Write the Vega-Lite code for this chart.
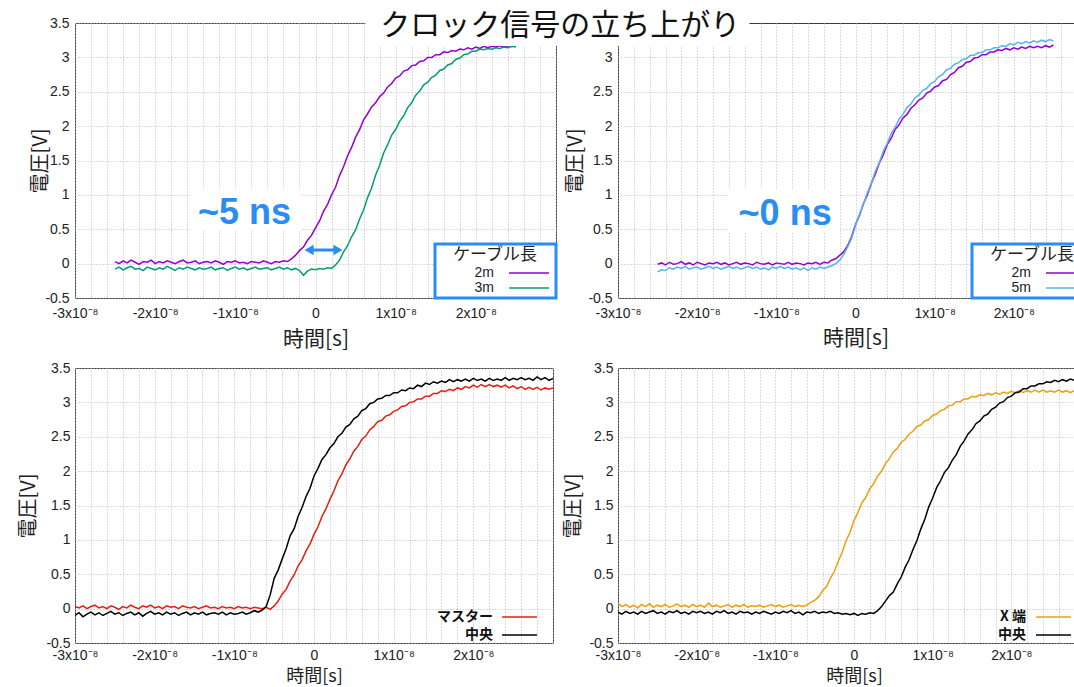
{
  "$schema": "https://vega.github.io/schema/vega-lite/v6.json",
  "padding": {"left": 17, "top": 0, "right": 0, "bottom": 0},
  "background": "white",
  "config": {
    "font": "Liberation Sans",
    "view": {"stroke": "#3a3a3a", "strokeWidth": 1},
    "legend": {"strokeWidth": 3},
    "axis": {"grid": true, "gridColor": "#b8b8b8", "gridDash": [1, 2], "gridWidth": 1, "ticks": false, "domain": false, "labelOverlap": false, "labelFont": "Liberation Sans", "labelFontSize": 14, "labelColor": "#222", "titleFont": "Noto Sans CJK JP", "titleFontWeight": "normal", "titleColor": "#222"}
  },
  "datasets": {
    "tl": [
      {"t":-25,"c2m":0.03,"c3m":-0.08},{"t":-24.5,"c2m":0.0,"c3m":-0.05},{"t":-24,"c2m":0.04,"c3m":-0.09},{"t":-23.5,"c2m":0.01,"c3m":-0.06},{"t":-23,"c2m":0.05,"c3m":-0.04},{"t":-22.5,"c2m":0.02,"c3m":-0.08},{"t":-22,"c2m":-0.01,"c3m":-0.07},{"t":-21.5,"c2m":0.03,"c3m":-0.1},{"t":-21,"c2m":0.02,"c3m":-0.05},{"t":-20.5,"c2m":0.05,"c3m":-0.07},{"t":-20,"c2m":0.0,"c3m":-0.09},{"t":-19.5,"c2m":0.03,"c3m":-0.06},{"t":-19,"c2m":0.01,"c3m":-0.08},{"t":-18.5,"c2m":0.04,"c3m":-0.04},{"t":-18,"c2m":0.02,"c3m":-0.07},{"t":-17.5,"c2m":0.0,"c3m":-0.1},{"t":-17,"c2m":0.03,"c3m":-0.06},{"t":-16.5,"c2m":0.05,"c3m":-0.08},{"t":-16,"c2m":0.01,"c3m":-0.05},{"t":-15.5,"c2m":0.02,"c3m":-0.07},{"t":-15,"c2m":0.04,"c3m":-0.09},{"t":-14.5,"c2m":0.0,"c3m":-0.06},{"t":-14,"c2m":0.02,"c3m":-0.08},{"t":-13.5,"c2m":0.03,"c3m":-0.07},{"t":-13,"c2m":0.01,"c3m":-0.05},{"t":-12.5,"c2m":0.04,"c3m":-0.09},{"t":-12,"c2m":0.02,"c3m":-0.07},{"t":-11.5,"c2m":-0.01,"c3m":-0.06},{"t":-11,"c2m":0.03,"c3m":-0.1},{"t":-10.5,"c2m":0.02,"c3m":-0.07},{"t":-10,"c2m":0.04,"c3m":-0.05},{"t":-9.5,"c2m":0.01,"c3m":-0.08},{"t":-9,"c2m":0.02,"c3m":-0.06},{"t":-8.5,"c2m":0.0,"c3m":-0.09},{"t":-8,"c2m":0.03,"c3m":-0.07},{"t":-7.5,"c2m":0.02,"c3m":-0.05},{"t":-7,"c2m":0.01,"c3m":-0.08},{"t":-6.5,"c2m":0.04,"c3m":-0.07},{"t":-6,"c2m":0.02,"c3m":-0.06},{"t":-5.5,"c2m":0.0,"c3m":-0.09},{"t":-5,"c2m":0.03,"c3m":-0.07},{"t":-4.5,"c2m":0.02,"c3m":-0.05},{"t":-4,"c2m":0.04,"c3m":-0.08},{"t":-3.5,"c2m":0.03,"c3m":-0.06},{"t":-3,"c2m":0.07,"c3m":-0.09},{"t":-2.5,"c2m":0.12,"c3m":-0.07},{"t":-2,"c2m":0.19,"c3m":-0.1},{"t":-1.5,"c2m":0.24,"c3m":-0.17},{"t":-1,"c2m":0.34,"c3m":-0.11},{"t":-0.5,"c2m":0.41,"c3m":-0.08},{"t":0,"c2m":0.52,"c3m":-0.09},{"t":0.5,"c2m":0.62,"c3m":-0.07},{"t":1,"c2m":0.76,"c3m":-0.08},{"t":1.5,"c2m":0.86,"c3m":-0.06},{"t":2,"c2m":1.0,"c3m":-0.07},{"t":2.5,"c2m":1.11,"c3m":-0.02},{"t":3,"c2m":1.28,"c3m":0.05},{"t":3.5,"c2m":1.41,"c3m":0.17},{"t":4,"c2m":1.57,"c3m":0.26},{"t":4.5,"c2m":1.69,"c3m":0.39},{"t":5,"c2m":1.84,"c3m":0.49},{"t":5.5,"c2m":1.95,"c3m":0.65},{"t":6,"c2m":2.09,"c3m":0.78},{"t":6.5,"c2m":2.18,"c3m":0.96},{"t":7,"c2m":2.28,"c3m":1.1},{"t":7.5,"c2m":2.34,"c3m":1.29},{"t":8,"c2m":2.43,"c3m":1.43},{"t":8.5,"c2m":2.48,"c3m":1.61},{"t":9,"c2m":2.57,"c3m":1.73},{"t":9.5,"c2m":2.62,"c3m":1.87},{"t":10,"c2m":2.7,"c3m":1.95},{"t":10.5,"c2m":2.73,"c3m":2.07},{"t":11,"c2m":2.8,"c3m":2.15},{"t":11.5,"c2m":2.82,"c3m":2.27},{"t":12,"c2m":2.88,"c3m":2.34},{"t":12.5,"c2m":2.89,"c3m":2.45},{"t":13,"c2m":2.94,"c3m":2.51},{"t":13.5,"c2m":2.95,"c3m":2.6},{"t":14,"c2m":3.0,"c3m":2.64},{"t":14.5,"c2m":3.0,"c3m":2.71},{"t":15,"c2m":3.04,"c3m":2.74},{"t":15.5,"c2m":3.04,"c3m":2.81},{"t":16,"c2m":3.08,"c3m":2.83},{"t":16.5,"c2m":3.07,"c3m":2.89},{"t":17,"c2m":3.1,"c3m":2.91},{"t":17.5,"c2m":3.09,"c3m":2.97},{"t":18,"c2m":3.12,"c3m":2.99},{"t":18.5,"c2m":3.11,"c3m":3.04},{"t":19,"c2m":3.14,"c3m":3.05},{"t":19.5,"c2m":3.12,"c3m":3.09},{"t":20,"c2m":3.15,"c3m":3.09},{"t":20.5,"c2m":3.13,"c3m":3.12},{"t":21,"c2m":3.16,"c3m":3.11},{"t":21.5,"c2m":3.14,"c3m":3.13},{"t":22,"c2m":3.16,"c3m":3.12},{"t":22.5,"c2m":3.15,"c3m":3.14},{"t":23,"c2m":3.17,"c3m":3.13},{"t":23.5,"c2m":3.15,"c3m":3.15},{"t":24,"c2m":3.17,"c3m":3.14},{"t":24.5,"c2m":3.16,"c3m":3.16},{"t":25,"c2m":3.17,"c3m":3.15}
    ],
    "tr": [
      {"t":-25,"c2m":-0.01,"c5m":-0.12},{"t":-24.5,"c2m":0.01,"c5m":-0.09},{"t":-24,"c2m":-0.02,"c5m":-0.1},{"t":-23.5,"c2m":0.02,"c5m":-0.06},{"t":-23,"c2m":-0.01,"c5m":-0.08},{"t":-22.5,"c2m":0.0,"c5m":-0.05},{"t":-22,"c2m":0.03,"c5m":-0.07},{"t":-21.5,"c2m":-0.01,"c5m":-0.04},{"t":-21,"c2m":0.01,"c5m":-0.08},{"t":-20.5,"c2m":-0.02,"c5m":-0.06},{"t":-20,"c2m":0.02,"c5m":-0.05},{"t":-19.5,"c2m":0.0,"c5m":-0.08},{"t":-19,"c2m":-0.02,"c5m":-0.06},{"t":-18.5,"c2m":0.01,"c5m":-0.04},{"t":-18,"c2m":0.0,"c5m":-0.07},{"t":-17.5,"c2m":0.02,"c5m":-0.05},{"t":-17,"c2m":-0.01,"c5m":-0.08},{"t":-16.5,"c2m":0.01,"c5m":-0.06},{"t":-16,"c2m":-0.02,"c5m":-0.04},{"t":-15.5,"c2m":0.0,"c5m":-0.07},{"t":-15,"c2m":0.02,"c5m":-0.05},{"t":-14.5,"c2m":-0.01,"c5m":-0.08},{"t":-14,"c2m":0.01,"c5m":-0.06},{"t":-13.5,"c2m":0.0,"c5m":-0.04},{"t":-13,"c2m":-0.02,"c5m":-0.07},{"t":-12.5,"c2m":0.02,"c5m":-0.05},{"t":-12,"c2m":0.0,"c5m":-0.08},{"t":-11.5,"c2m":-0.01,"c5m":-0.06},{"t":-11,"c2m":0.01,"c5m":-0.09},{"t":-10.5,"c2m":-0.02,"c5m":-0.05},{"t":-10,"c2m":0.01,"c5m":-0.07},{"t":-9.5,"c2m":0.0,"c5m":-0.04},{"t":-9,"c2m":-0.01,"c5m":-0.07},{"t":-8.5,"c2m":0.02,"c5m":-0.05},{"t":-8,"c2m":-0.01,"c5m":-0.08},{"t":-7.5,"c2m":0.01,"c5m":-0.06},{"t":-7,"c2m":0.0,"c5m":-0.09},{"t":-6.5,"c2m":-0.02,"c5m":-0.06},{"t":-6,"c2m":0.01,"c5m":-0.1},{"t":-5.5,"c2m":0.0,"c5m":-0.06},{"t":-5,"c2m":0.02,"c5m":-0.08},{"t":-4.5,"c2m":-0.01,"c5m":-0.05},{"t":-4,"c2m":0.02,"c5m":-0.07},{"t":-3.5,"c2m":0.01,"c5m":-0.05},{"t":-3,"c2m":0.05,"c5m":-0.03},{"t":-2.5,"c2m":0.07,"c5m":0.0},{"t":-2,"c2m":0.12,"c5m":0.05},{"t":-1.5,"c2m":0.17,"c5m":0.13},{"t":-1,"c2m":0.26,"c5m":0.24},{"t":-0.5,"c2m":0.39,"c5m":0.37},{"t":0,"c2m":0.57,"c5m":0.55},{"t":0.5,"c2m":0.7,"c5m":0.72},{"t":1,"c2m":0.87,"c5m":0.86},{"t":1.5,"c2m":1.0,"c5m":1.03},{"t":2,"c2m":1.17,"c5m":1.17},{"t":2.5,"c2m":1.3,"c5m":1.34},{"t":3,"c2m":1.46,"c5m":1.47},{"t":3.5,"c2m":1.58,"c5m":1.63},{"t":4,"c2m":1.73,"c5m":1.75},{"t":4.5,"c2m":1.82,"c5m":1.89},{"t":5,"c2m":1.95,"c5m":1.98},{"t":5.5,"c2m":2.02,"c5m":2.1},{"t":6,"c2m":2.12,"c5m":2.17},{"t":6.5,"c2m":2.17,"c5m":2.27},{"t":7,"c2m":2.26,"c5m":2.32},{"t":7.5,"c2m":2.31,"c5m":2.41},{"t":8,"c2m":2.38,"c5m":2.45},{"t":8.5,"c2m":2.41,"c5m":2.52},{"t":9,"c2m":2.48,"c5m":2.55},{"t":9.5,"c2m":2.51,"c5m":2.62},{"t":10,"c2m":2.57,"c5m":2.65},{"t":10.5,"c2m":2.59,"c5m":2.72},{"t":11,"c2m":2.66,"c5m":2.75},{"t":11.5,"c2m":2.68,"c5m":2.82},{"t":12,"c2m":2.75,"c5m":2.84},{"t":12.5,"c2m":2.78,"c5m":2.9},{"t":13,"c2m":2.85,"c5m":2.92},{"t":13.5,"c2m":2.87,"c5m":2.97},{"t":14,"c2m":2.93,"c5m":2.98},{"t":14.5,"c2m":2.94,"c5m":3.03},{"t":15,"c2m":2.99,"c5m":3.03},{"t":15.5,"c2m":3.0,"c5m":3.07},{"t":16,"c2m":3.04,"c5m":3.07},{"t":16.5,"c2m":3.04,"c5m":3.11},{"t":17,"c2m":3.08,"c5m":3.11},{"t":17.5,"c2m":3.08,"c5m":3.14},{"t":18,"c2m":3.11,"c5m":3.14},{"t":18.5,"c2m":3.1,"c5m":3.17},{"t":19,"c2m":3.13,"c5m":3.16},{"t":19.5,"c2m":3.11,"c5m":3.2},{"t":20,"c2m":3.14,"c5m":3.18},{"t":20.5,"c2m":3.12,"c5m":3.22},{"t":21,"c2m":3.15,"c5m":3.2},{"t":21.5,"c2m":3.13,"c5m":3.23},{"t":22,"c2m":3.16,"c5m":3.21},{"t":22.5,"c2m":3.14,"c5m":3.24},{"t":23,"c2m":3.16,"c5m":3.22},{"t":23.5,"c2m":3.14,"c5m":3.25},{"t":24,"c2m":3.17,"c5m":3.23},{"t":24.5,"c2m":3.15,"c5m":3.26},{"t":25,"c2m":3.18,"c5m":3.24}
    ],
    "bl": [
      {"t":-30,"master":0.03,"center":-0.1},{"t":-29.5,"master":0.01,"center":-0.06},{"t":-29,"master":0.04,"center":-0.12},{"t":-28.5,"master":0.0,"center":-0.08},{"t":-28,"master":0.03,"center":-0.05},{"t":-27.5,"master":0.05,"center":-0.09},{"t":-27,"master":0.01,"center":-0.06},{"t":-26.5,"master":0.03,"center":-0.1},{"t":-26,"master":0.0,"center":-0.07},{"t":-25.5,"master":0.04,"center":-0.04},{"t":-25,"master":0.02,"center":-0.08},{"t":-24.5,"master":-0.01,"center":-0.06},{"t":-24,"master":0.03,"center":-0.1},{"t":-23.5,"master":0.01,"center":-0.07},{"t":-23,"master":0.05,"center":-0.05},{"t":-22.5,"master":0.02,"center":-0.09},{"t":-22,"master":0.0,"center":-0.06},{"t":-21.5,"master":0.04,"center":-0.11},{"t":-21,"master":0.02,"center":-0.07},{"t":-20.5,"master":0.05,"center":-0.04},{"t":-20,"master":0.01,"center":-0.08},{"t":-19.5,"master":0.03,"center":-0.06},{"t":-19,"master":0.0,"center":-0.09},{"t":-18.5,"master":0.04,"center":-0.05},{"t":-18,"master":0.02,"center":-0.08},{"t":-17.5,"master":0.03,"center":-0.06},{"t":-17,"master":0.0,"center":-0.1},{"t":-16.5,"master":0.04,"center":-0.07},{"t":-16,"master":0.02,"center":-0.05},{"t":-15.5,"master":0.01,"center":-0.09},{"t":-15,"master":0.03,"center":-0.06},{"t":-14.5,"master":0.0,"center":-0.08},{"t":-14,"master":0.02,"center":-0.05},{"t":-13.5,"master":0.04,"center":-0.09},{"t":-13,"master":0.01,"center":-0.07},{"t":-12.5,"master":0.02,"center":-0.06},{"t":-12,"master":0.0,"center":-0.08},{"t":-11.5,"master":0.03,"center":-0.05},{"t":-11,"master":0.01,"center":-0.09},{"t":-10.5,"master":0.02,"center":-0.06},{"t":-10,"master":0.0,"center":-0.08},{"t":-9.5,"master":0.03,"center":-0.07},{"t":-9,"master":0.01,"center":-0.05},{"t":-8.5,"master":0.02,"center":-0.08},{"t":-8,"master":0.0,"center":-0.06},{"t":-7.5,"master":0.02,"center":-0.03},{"t":-7,"master":0.01,"center":-0.05},{"t":-6.5,"master":0.0,"center":-0.02},{"t":-6,"master":0.02,"center":0.03},{"t":-5.5,"master":-0.01,"center":0.2},{"t":-5,"master":0.04,"center":0.44},{"t":-4.5,"master":0.11,"center":0.56},{"t":-4,"master":0.21,"center":0.72},{"t":-3.5,"master":0.28,"center":0.87},{"t":-3,"master":0.4,"center":1.06},{"t":-2.5,"master":0.49,"center":1.16},{"t":-2,"master":0.62,"center":1.34},{"t":-1.5,"master":0.71,"center":1.47},{"t":-1,"master":0.84,"center":1.63},{"t":-0.5,"master":0.94,"center":1.75},{"t":0,"master":1.08,"center":1.93},{"t":0.5,"master":1.19,"center":2.04},{"t":1,"master":1.34,"center":2.17},{"t":1.5,"master":1.45,"center":2.24},{"t":2,"master":1.59,"center":2.34},{"t":2.5,"master":1.71,"center":2.4},{"t":3,"master":1.86,"center":2.5},{"t":3.5,"master":1.96,"center":2.55},{"t":4,"master":2.09,"center":2.64},{"t":4.5,"master":2.18,"center":2.68},{"t":5,"master":2.29,"center":2.76},{"t":5.5,"master":2.36,"center":2.8},{"t":6,"master":2.46,"center":2.88},{"t":6.5,"master":2.51,"center":2.91},{"t":7,"master":2.6,"center":2.98},{"t":7.5,"master":2.65,"center":3.0},{"t":8,"master":2.72,"center":3.05},{"t":8.5,"master":2.74,"center":3.06},{"t":9,"master":2.8,"center":3.1},{"t":9.5,"master":2.82,"center":3.1},{"t":10,"master":2.87,"center":3.14},{"t":10.5,"master":2.89,"center":3.14},{"t":11,"master":2.94,"center":3.18},{"t":11.5,"master":2.95,"center":3.17},{"t":12,"master":3.0,"center":3.21},{"t":12.5,"master":3.01,"center":3.2},{"t":13,"master":3.05,"center":3.25},{"t":13.5,"master":3.05,"center":3.23},{"t":14,"master":3.09,"center":3.28},{"t":14.5,"master":3.09,"center":3.26},{"t":15,"master":3.13,"center":3.3},{"t":15.5,"master":3.13,"center":3.28},{"t":16,"master":3.17,"center":3.31},{"t":16.5,"master":3.16,"center":3.29},{"t":17,"master":3.19,"center":3.33},{"t":17.5,"master":3.17,"center":3.3},{"t":18,"master":3.21,"center":3.33},{"t":18.5,"master":3.19,"center":3.31},{"t":19,"master":3.23,"center":3.34},{"t":19.5,"master":3.21,"center":3.31},{"t":20,"master":3.25,"center":3.35},{"t":20.5,"master":3.22,"center":3.32},{"t":21,"master":3.26,"center":3.34},{"t":21.5,"master":3.23,"center":3.31},{"t":22,"master":3.26,"center":3.35},{"t":22.5,"master":3.23,"center":3.32},{"t":23,"master":3.25,"center":3.34},{"t":23.5,"master":3.22,"center":3.32},{"t":24,"master":3.25,"center":3.36},{"t":24.5,"master":3.21,"center":3.32},{"t":25,"master":3.24,"center":3.35},{"t":25.5,"master":3.2,"center":3.33},{"t":26,"master":3.23,"center":3.36},{"t":26.5,"master":3.19,"center":3.33},{"t":27,"master":3.22,"center":3.35},{"t":27.5,"master":3.19,"center":3.32},{"t":28,"master":3.22,"center":3.37},{"t":28.5,"master":3.18,"center":3.33},{"t":29,"master":3.21,"center":3.36},{"t":29.5,"master":3.19,"center":3.32},{"t":30,"master":3.21,"center":3.35}
    ],
    "br": [
      {"t":-30,"xend":0.08,"center":-0.05},{"t":-29.5,"xend":0.03,"center":-0.08},{"t":-29,"xend":0.06,"center":-0.04},{"t":-28.5,"xend":0.02,"center":-0.07},{"t":-28,"xend":0.05,"center":-0.05},{"t":-27.5,"xend":0.01,"center":-0.08},{"t":-27,"xend":0.06,"center":-0.04},{"t":-26.5,"xend":0.03,"center":-0.07},{"t":-26,"xend":0.07,"center":-0.05},{"t":-25.5,"xend":0.02,"center":-0.03},{"t":-25,"xend":0.05,"center":-0.07},{"t":-24.5,"xend":0.03,"center":-0.05},{"t":-24,"xend":0.06,"center":-0.08},{"t":-23.5,"xend":0.02,"center":-0.04},{"t":-23,"xend":0.04,"center":-0.06},{"t":-22.5,"xend":0.07,"center":-0.03},{"t":-22,"xend":0.03,"center":-0.07},{"t":-21.5,"xend":0.05,"center":-0.05},{"t":-21,"xend":0.02,"center":-0.08},{"t":-20.5,"xend":0.06,"center":-0.04},{"t":-20,"xend":0.03,"center":-0.06},{"t":-19.5,"xend":0.05,"center":-0.04},{"t":-19,"xend":0.02,"center":-0.07},{"t":-18.5,"xend":0.08,"center":-0.05},{"t":-18,"xend":0.03,"center":-0.08},{"t":-17.5,"xend":0.05,"center":-0.04},{"t":-17,"xend":0.02,"center":-0.06},{"t":-16.5,"xend":0.04,"center":-0.03},{"t":-16,"xend":0.06,"center":-0.07},{"t":-15.5,"xend":0.02,"center":-0.05},{"t":-15,"xend":0.05,"center":-0.08},{"t":-14.5,"xend":0.03,"center":-0.04},{"t":-14,"xend":0.06,"center":-0.06},{"t":-13.5,"xend":0.02,"center":-0.05},{"t":-13,"xend":0.04,"center":-0.08},{"t":-12.5,"xend":0.03,"center":-0.05},{"t":-12,"xend":0.05,"center":-0.07},{"t":-11.5,"xend":0.02,"center":-0.04},{"t":-11,"xend":0.04,"center":-0.06},{"t":-10.5,"xend":0.06,"center":-0.08},{"t":-10,"xend":0.03,"center":-0.05},{"t":-9.5,"xend":0.05,"center":-0.07},{"t":-9,"xend":0.02,"center":-0.04},{"t":-8.5,"xend":0.04,"center":-0.06},{"t":-8,"xend":0.06,"center":-0.03},{"t":-7.5,"xend":0.03,"center":-0.07},{"t":-7,"xend":0.05,"center":-0.05},{"t":-6.5,"xend":0.03,"center":-0.09},{"t":-6,"xend":0.05,"center":-0.05},{"t":-5.5,"xend":0.09,"center":-0.06},{"t":-5,"xend":0.12,"center":-0.04},{"t":-4.5,"xend":0.17,"center":-0.07},{"t":-4,"xend":0.26,"center":-0.05},{"t":-3.5,"xend":0.32,"center":-0.06},{"t":-3,"xend":0.44,"center":-0.04},{"t":-2.5,"xend":0.54,"center":-0.07},{"t":-2,"xend":0.69,"center":-0.06},{"t":-1.5,"xend":0.82,"center":-0.08},{"t":-1,"xend":0.99,"center":-0.07},{"t":-0.5,"xend":1.11,"center":-0.09},{"t":0,"xend":1.28,"center":-0.07},{"t":0.5,"xend":1.4,"center":-0.1},{"t":1,"xend":1.54,"center":-0.07},{"t":1.5,"xend":1.62,"center":-0.08},{"t":2,"xend":1.74,"center":-0.06},{"t":2.5,"xend":1.82,"center":-0.07},{"t":3,"xend":1.93,"center":-0.03},{"t":3.5,"xend":2.0,"center":0.03},{"t":4,"xend":2.11,"center":0.11},{"t":4.5,"xend":2.18,"center":0.19},{"t":5,"xend":2.28,"center":0.24},{"t":5.5,"xend":2.33,"center":0.36},{"t":6,"xend":2.42,"center":0.46},{"t":6.5,"xend":2.46,"center":0.6},{"t":7,"xend":2.54,"center":0.71},{"t":7.5,"xend":2.58,"center":0.86},{"t":8,"xend":2.65,"center":0.99},{"t":8.5,"xend":2.67,"center":1.16},{"t":9,"xend":2.73,"center":1.3},{"t":9.5,"xend":2.75,"center":1.48},{"t":10,"xend":2.81,"center":1.61},{"t":10.5,"xend":2.83,"center":1.76},{"t":11,"xend":2.88,"center":1.86},{"t":11.5,"xend":2.9,"center":1.98},{"t":12,"xend":2.95,"center":2.05},{"t":12.5,"xend":2.96,"center":2.16},{"t":13,"xend":3.01,"center":2.24},{"t":13.5,"xend":3.01,"center":2.36},{"t":14,"xend":3.05,"center":2.44},{"t":14.5,"xend":3.05,"center":2.54},{"t":15,"xend":3.09,"center":2.6},{"t":15.5,"xend":3.08,"center":2.69},{"t":16,"xend":3.11,"center":2.73},{"t":16.5,"xend":3.1,"center":2.8},{"t":17,"xend":3.13,"center":2.83},{"t":17.5,"xend":3.11,"center":2.9},{"t":18,"xend":3.14,"center":2.93},{"t":18.5,"xend":3.12,"center":2.99},{"t":19,"xend":3.15,"center":3.01},{"t":19.5,"xend":3.13,"center":3.07},{"t":20,"xend":3.16,"center":3.09},{"t":20.5,"xend":3.14,"center":3.14},{"t":21,"xend":3.17,"center":3.15},{"t":21.5,"xend":3.14,"center":3.2},{"t":22,"xend":3.17,"center":3.2},{"t":22.5,"xend":3.15,"center":3.24},{"t":23,"xend":3.18,"center":3.24},{"t":23.5,"xend":3.15,"center":3.27},{"t":24,"xend":3.18,"center":3.27},{"t":24.5,"xend":3.15,"center":3.3},{"t":25,"xend":3.17,"center":3.29},{"t":25.5,"xend":3.15,"center":3.32},{"t":26,"xend":3.18,"center":3.3},{"t":26.5,"xend":3.15,"center":3.33},{"t":27,"xend":3.17,"center":3.31},{"t":27.5,"xend":3.14,"center":3.34},{"t":28,"xend":3.17,"center":3.32},{"t":28.5,"xend":3.15,"center":3.34},{"t":29,"xend":3.17,"center":3.32},{"t":29.5,"xend":3.14,"center":3.35},{"t":30,"xend":3.16,"center":3.33}
    ]
  },
  "columns": 2,
  "bounds": "flush",
  "align": "none",
  "spacing": {"row": 70, "column": 62},
  "resolve": {"scale": {"color": "independent"}, "legend": {"color": "independent"}},
  "concat": [
    {
      "width": 481, "height": 275,
      "encoding": {
        "x": {"type": "quantitative", "scale": {"domain": [-30, 30], "nice": false, "zero": false},
          "axis": {"values": [-30,-28,-26,-24,-22,-20,-18,-16,-14,-12,-10,-8,-6,-4,-2,0,2,4,6,8,10,12,14,16,18,20,22,24,26,28,30], "labelExpr": "datum.value % 10 != 0 || datum.value > 25 ? '' : datum.value == 0 ? '0' : (datum.value / 10) + 'x10⁻⁸'", "labelOverlap": false, "labelFlush": false, "labelPadding": 8, "title": "時間[s]", "titleFontSize": 21, "titleY": 41, "titleBaseline": "middle"}},
        "y": {"type": "quantitative", "scale": {"domain": [-0.5, 3.5], "nice": false, "zero": false},
          "axis": {"values": [-0.5,0,0.5,1,1.5,2,2.5,3,3.5], "labelExpr": "replace(format(datum.value, '~g'), '−', '-')", "labelOverlap": false, "labelPadding": 6, "title": "電圧[V]", "titleFontSize": 20, "titleX": -35, "titleY": 137.5, "titleAngle": -90, "titleBaseline": "middle", "titleAlign": "center"}}
      },
      "layer": [
        {
          "data": {"name": "tl"},
          "transform": [{"fold": ["c2m", "c3m"], "as": ["series", "v"]}],
          "mark": {"type": "line", "strokeWidth": 1.5, "clip": true},
          "encoding": {
            "x": {"field": "t", "type": "quantitative", "scale": {"domain": [-30, 30], "nice": false, "zero": false},
              "axis": {"values": [-30,-28,-26,-24,-22,-20,-18,-16,-14,-12,-10,-8,-6,-4,-2,0,2,4,6,8,10,12,14,16,18,20,22,24,26,28,30], "labelExpr": "datum.value % 10 != 0 || datum.value > 25 ? '' : datum.value == 0 ? '0' : (datum.value / 10) + 'x10⁻⁸'", "labelOverlap": false, "labelFlush": false, "labelPadding": 8, "title": "時間[s]", "titleFontSize": 21, "titleY": 41, "titleBaseline": "middle"}},
            "y": {"field": "v", "type": "quantitative", "scale": {"domain": [-0.5, 3.5], "nice": false, "zero": false},
              "axis": {"values": [-0.5,0,0.5,1,1.5,2,2.5,3,3.5], "labelExpr": "replace(format(datum.value, '~g'), '−', '-')", "labelOverlap": false, "labelPadding": 6, "title": "電圧[V]", "titleFontSize": 20, "titleX": -35, "titleY": 137.5, "titleAngle": -90, "titleBaseline": "middle", "titleAlign": "center"}},
            "color": {"field": "series", "type": "nominal", "scale": {"domain": ["c2m", "c3m"], "range": ["#9400d3", "#009e73"]},
              "legend": {"title": "ケーブル長", "labelExpr": "substring(datum.label, 1)", "orient": "bottom-right", "offset": 0, "padding": 3, "strokeColor": "#2a8cf5", "fillColor": "white", "titleAnchor": "middle", "titleFont": "Noto Sans CJK JP", "titleFontSize": 17, "titleFontWeight": "normal", "titleColor": "#222", "titlePadding": 1, "labelFont": "Liberation Sans", "labelFontSize": 14, "labelColor": "#222", "labelAlign": "right", "labelOffset": -43, "symbolOffset": 83, "symbolType": "M-2.86,0H2.86", "symbolSize": 196, "symbolStrokeWidth": 1.5, "rowPadding": 0}}
          }
        },
        {"data": {"values": [{}]}, "mark": {"type": "rect", "color": "white"}, "encoding": {
          "x": {"datum": -15.66, "type": "quantitative", "scale": {"domain": [-30, 30], "nice": false, "zero": false}, "axis": {"values": [-30,-28,-26,-24,-22,-20,-18,-16,-14,-12,-10,-8,-6,-4,-2,0,2,4,6,8,10,12,14,16,18,20,22,24,26,28,30], "labelExpr": "datum.value % 10 != 0 || datum.value > 25 ? '' : datum.value == 0 ? '0' : (datum.value / 10) + 'x10⁻⁸'", "labelOverlap": false, "labelFlush": false, "labelPadding": 8, "title": "時間[s]", "titleFontSize": 21, "titleY": 41, "titleBaseline": "middle"}},
          "x2": {"datum": -1.81},
          "y": {"datum": 1.085, "type": "quantitative", "scale": {"domain": [-0.5, 3.5], "nice": false, "zero": false}, "axis": {"values": [-0.5,0,0.5,1,1.5,2,2.5,3,3.5], "labelExpr": "replace(format(datum.value, '~g'), '−', '-')", "labelOverlap": false, "labelPadding": 6, "title": "電圧[V]", "titleFontSize": 20, "titleX": -35, "titleY": 137.5, "titleAngle": -90, "titleBaseline": "middle", "titleAlign": "center"}},
          "y2": {"datum": 0.475}}},
        {"data": {"values": [{}]}, "mark": {"type": "text", "text": "~5 ns", "font": "Liberation Sans", "fontSize": 36, "fontWeight": "bold", "color": "#2a8cf5", "align": "center", "baseline": "middle"}, "encoding": {
          "x": {"datum": -8.86, "type": "quantitative", "scale": {"domain": [-30, 30], "nice": false, "zero": false}, "axis": {"values": [-30,-28,-26,-24,-22,-20,-18,-16,-14,-12,-10,-8,-6,-4,-2,0,2,4,6,8,10,12,14,16,18,20,22,24,26,28,30], "labelExpr": "datum.value % 10 != 0 || datum.value > 25 ? '' : datum.value == 0 ? '0' : (datum.value / 10) + 'x10⁻⁸'", "labelOverlap": false, "labelFlush": false, "labelPadding": 8, "title": "時間[s]", "titleFontSize": 21, "titleY": 41, "titleBaseline": "middle"}},
          "y": {"datum": 0.736, "type": "quantitative", "scale": {"domain": [-0.5, 3.5], "nice": false, "zero": false}, "axis": {"values": [-0.5,0,0.5,1,1.5,2,2.5,3,3.5], "labelExpr": "replace(format(datum.value, '~g'), '−', '-')", "labelOverlap": false, "labelPadding": 6, "title": "電圧[V]", "titleFontSize": 20, "titleX": -35, "titleY": 137.5, "titleAngle": -90, "titleBaseline": "middle", "titleAlign": "center"}}}},
        {"data": {"values": [{}]}, "mark": {"type": "rule", "color": "#2a8cf5", "strokeWidth": 3}, "encoding": {
          "x": {"datum": -0.8, "type": "quantitative", "scale": {"domain": [-30, 30], "nice": false, "zero": false}, "axis": {"values": [-30,-28,-26,-24,-22,-20,-18,-16,-14,-12,-10,-8,-6,-4,-2,0,2,4,6,8,10,12,14,16,18,20,22,24,26,28,30], "labelExpr": "datum.value % 10 != 0 || datum.value > 25 ? '' : datum.value == 0 ? '0' : (datum.value / 10) + 'x10⁻⁸'", "labelOverlap": false, "labelFlush": false, "labelPadding": 8, "title": "時間[s]", "titleFontSize": 21, "titleY": 41, "titleBaseline": "middle"}},
          "x2": {"datum": 2.8},
          "y": {"datum": 0.198, "type": "quantitative", "scale": {"domain": [-0.5, 3.5], "nice": false, "zero": false}, "axis": {"values": [-0.5,0,0.5,1,1.5,2,2.5,3,3.5], "labelExpr": "replace(format(datum.value, '~g'), '−', '-')", "labelOverlap": false, "labelPadding": 6, "title": "電圧[V]", "titleFontSize": 20, "titleX": -35, "titleY": 137.5, "titleAngle": -90, "titleBaseline": "middle", "titleAlign": "center"}}}},
        {"data": {"values": [{}]}, "mark": {"type": "point", "shape": "triangle-left", "filled": true, "color": "#2a8cf5", "opacity": 1, "size": 110}, "encoding": {
          "x": {"datum": -0.8, "type": "quantitative", "scale": {"domain": [-30, 30], "nice": false, "zero": false}, "axis": {"values": [-30,-28,-26,-24,-22,-20,-18,-16,-14,-12,-10,-8,-6,-4,-2,0,2,4,6,8,10,12,14,16,18,20,22,24,26,28,30], "labelExpr": "datum.value % 10 != 0 || datum.value > 25 ? '' : datum.value == 0 ? '0' : (datum.value / 10) + 'x10⁻⁸'", "labelOverlap": false, "labelFlush": false, "labelPadding": 8, "title": "時間[s]", "titleFontSize": 21, "titleY": 41, "titleBaseline": "middle"}},
          "y": {"datum": 0.198, "type": "quantitative", "scale": {"domain": [-0.5, 3.5], "nice": false, "zero": false}, "axis": {"values": [-0.5,0,0.5,1,1.5,2,2.5,3,3.5], "labelExpr": "replace(format(datum.value, '~g'), '−', '-')", "labelOverlap": false, "labelPadding": 6, "title": "電圧[V]", "titleFontSize": 20, "titleX": -35, "titleY": 137.5, "titleAngle": -90, "titleBaseline": "middle", "titleAlign": "center"}}}},
        {"data": {"values": [{}]}, "mark": {"type": "point", "shape": "triangle-right", "filled": true, "color": "#2a8cf5", "opacity": 1, "size": 110}, "encoding": {
          "x": {"datum": 2.8, "type": "quantitative", "scale": {"domain": [-30, 30], "nice": false, "zero": false}, "axis": {"values": [-30,-28,-26,-24,-22,-20,-18,-16,-14,-12,-10,-8,-6,-4,-2,0,2,4,6,8,10,12,14,16,18,20,22,24,26,28,30], "labelExpr": "datum.value % 10 != 0 || datum.value > 25 ? '' : datum.value == 0 ? '0' : (datum.value / 10) + 'x10⁻⁸'", "labelOverlap": false, "labelFlush": false, "labelPadding": 8, "title": "時間[s]", "titleFontSize": 21, "titleY": 41, "titleBaseline": "middle"}},
          "y": {"datum": 0.198, "type": "quantitative", "scale": {"domain": [-0.5, 3.5], "nice": false, "zero": false}, "axis": {"values": [-0.5,0,0.5,1,1.5,2,2.5,3,3.5], "labelExpr": "replace(format(datum.value, '~g'), '−', '-')", "labelOverlap": false, "labelPadding": 6, "title": "電圧[V]", "titleFontSize": 20, "titleX": -35, "titleY": 137.5, "titleAngle": -90, "titleBaseline": "middle", "titleAlign": "center"}}}}
      ]
    },
    {
      "width": 475, "height": 275,
      "layer": [
        {
          "data": {"name": "tr"},
          "transform": [{"fold": ["c2m", "c5m"], "as": ["series", "v"]}],
          "mark": {"type": "line", "strokeWidth": 1.5, "clip": true},
          "encoding": {
            "x": {"field": "t", "type": "quantitative", "scale": {"domain": [-30, 30], "nice": false, "zero": false},
              "axis": {"values": [-30,-28,-26,-24,-22,-20,-18,-16,-14,-12,-10,-8,-6,-4,-2,0,2,4,6,8,10,12,14,16,18,20,22,24,26,28,30], "labelExpr": "datum.value % 10 != 0 || datum.value > 25 ? '' : datum.value == 0 ? '0' : (datum.value / 10) + 'x10⁻⁸'", "labelOverlap": false, "labelFlush": false, "labelPadding": 8, "title": "時間[s]", "titleFontSize": 21, "titleY": 40, "titleBaseline": "middle"}},
            "y": {"field": "v", "type": "quantitative", "scale": {"domain": [-0.5, 3.5], "nice": false, "zero": false},
              "axis": {"values": [-0.5,0,0.5,1,1.5,2,2.5,3], "labelExpr": "replace(format(datum.value, '~g'), '−', '-')", "labelOverlap": false, "labelPadding": 6, "title": "電圧[V]", "titleFontSize": 20, "titleX": -43, "titleY": 137.5, "titleAngle": -90, "titleBaseline": "middle", "titleAlign": "center"}},
            "color": {"field": "series", "type": "nominal", "scale": {"domain": ["c2m", "c5m"], "range": ["#9400d3", "#56b4e9"]},
              "legend": {"title": "ケーブル長", "labelExpr": "substring(datum.label, 1)", "orient": "bottom-right", "offset": 0, "padding": 3, "strokeColor": "#2a8cf5", "fillColor": "white", "titleAnchor": "middle", "titleFont": "Noto Sans CJK JP", "titleFontSize": 17, "titleFontWeight": "normal", "titleColor": "#222", "titlePadding": 1, "labelFont": "Liberation Sans", "labelFontSize": 14, "labelColor": "#222", "labelAlign": "right", "labelOffset": -43, "symbolOffset": 83, "symbolType": "M-2.86,0H2.86", "symbolSize": 196, "symbolStrokeWidth": 1.5, "rowPadding": 0}}
          }
        },
        {"data": {"values": [{}]}, "mark": {"type": "rect", "color": "white"}, "encoding": {
          "x": {"datum": -15.97, "type": "quantitative", "scale": {"domain": [-30, 30], "nice": false, "zero": false}, "axis": {"values": [-30,-28,-26,-24,-22,-20,-18,-16,-14,-12,-10,-8,-6,-4,-2,0,2,4,6,8,10,12,14,16,18,20,22,24,26,28,30], "labelExpr": "datum.value % 10 != 0 || datum.value > 25 ? '' : datum.value == 0 ? '0' : (datum.value / 10) + 'x10⁻⁸'", "labelOverlap": false, "labelFlush": false, "labelPadding": 8, "title": "時間[s]", "titleFontSize": 21, "titleY": 40, "titleBaseline": "middle"}},
          "x2": {"datum": -2.06},
          "y": {"datum": 1.085, "type": "quantitative", "scale": {"domain": [-0.5, 3.5], "nice": false, "zero": false}, "axis": {"values": [-0.5,0,0.5,1,1.5,2,2.5,3], "labelExpr": "replace(format(datum.value, '~g'), '−', '-')", "labelOverlap": false, "labelPadding": 6, "title": "電圧[V]", "titleFontSize": 20, "titleX": -43, "titleY": 137.5, "titleAngle": -90, "titleBaseline": "middle", "titleAlign": "center"}},
          "y2": {"datum": 0.445}}},
        {"data": {"values": [{}]}, "mark": {"type": "text", "text": "~0 ns", "font": "Liberation Sans", "fontSize": 36, "fontWeight": "bold", "color": "#2a8cf5", "align": "center", "baseline": "middle"}, "encoding": {
          "x": {"datum": -8.89, "type": "quantitative", "scale": {"domain": [-30, 30], "nice": false, "zero": false}, "axis": {"values": [-30,-28,-26,-24,-22,-20,-18,-16,-14,-12,-10,-8,-6,-4,-2,0,2,4,6,8,10,12,14,16,18,20,22,24,26,28,30], "labelExpr": "datum.value % 10 != 0 || datum.value > 25 ? '' : datum.value == 0 ? '0' : (datum.value / 10) + 'x10⁻⁸'", "labelOverlap": false, "labelFlush": false, "labelPadding": 8, "title": "時間[s]", "titleFontSize": 21, "titleY": 40, "titleBaseline": "middle"}},
          "y": {"datum": 0.72, "type": "quantitative", "scale": {"domain": [-0.5, 3.5], "nice": false, "zero": false}, "axis": {"values": [-0.5,0,0.5,1,1.5,2,2.5,3], "labelExpr": "replace(format(datum.value, '~g'), '−', '-')", "labelOverlap": false, "labelPadding": 6, "title": "電圧[V]", "titleFontSize": 20, "titleX": -43, "titleY": 137.5, "titleAngle": -90, "titleBaseline": "middle", "titleAlign": "center"}}}},
        {"data": {"values": [{}]}, "mark": {"type": "rect", "color": "white"}, "encoding": {
          "x": {"datum": -61.9, "type": "quantitative", "scale": {"domain": [-30, 30], "nice": false, "zero": false}, "axis": {"values": [-30,-28,-26,-24,-22,-20,-18,-16,-14,-12,-10,-8,-6,-4,-2,0,2,4,6,8,10,12,14,16,18,20,22,24,26,28,30], "labelExpr": "datum.value % 10 != 0 || datum.value > 25 ? '' : datum.value == 0 ? '0' : (datum.value / 10) + 'x10⁻⁸'", "labelOverlap": false, "labelFlush": false, "labelPadding": 8, "title": "時間[s]", "titleFontSize": 21, "titleY": 40, "titleBaseline": "middle"}},
          "x2": {"datum": -13.4},
          "y": {"datum": 3.82, "type": "quantitative", "scale": {"domain": [-0.5, 3.5], "nice": false, "zero": false}, "axis": {"values": [-0.5,0,0.5,1,1.5,2,2.5,3], "labelExpr": "replace(format(datum.value, '~g'), '−', '-')", "labelOverlap": false, "labelPadding": 6, "title": "電圧[V]", "titleFontSize": 20, "titleX": -43, "titleY": 137.5, "titleAngle": -90, "titleBaseline": "middle", "titleAlign": "center"}},
          "y2": {"datum": 3.165}}},
        {"data": {"values": [{}]}, "mark": {"type": "text", "text": "クロック信号の立ち上がり", "font": "Noto Sans CJK JP", "fontSize": 30, "color": "#111", "align": "center", "baseline": "middle"}, "encoding": {
          "x": {"datum": -37.3, "type": "quantitative", "scale": {"domain": [-30, 30], "nice": false, "zero": false}, "axis": {"values": [-30,-28,-26,-24,-22,-20,-18,-16,-14,-12,-10,-8,-6,-4,-2,0,2,4,6,8,10,12,14,16,18,20,22,24,26,28,30], "labelExpr": "datum.value % 10 != 0 || datum.value > 25 ? '' : datum.value == 0 ? '0' : (datum.value / 10) + 'x10⁻⁸'", "labelOverlap": false, "labelFlush": false, "labelPadding": 8, "title": "時間[s]", "titleFontSize": 21, "titleY": 40, "titleBaseline": "middle"}},
          "y": {"datum": 3.456, "type": "quantitative", "scale": {"domain": [-0.5, 3.5], "nice": false, "zero": false}, "axis": {"values": [-0.5,0,0.5,1,1.5,2,2.5,3], "labelExpr": "replace(format(datum.value, '~g'), '−', '-')", "labelOverlap": false, "labelPadding": 6, "title": "電圧[V]", "titleFontSize": 20, "titleX": -43, "titleY": 137.5, "titleAngle": -90, "titleBaseline": "middle", "titleAlign": "center"}}}}
      ]
    },
    {
      "width": 478, "height": 275,
      "data": {"name": "bl"},
      "transform": [{"fold": ["master", "center"], "as": ["series", "v"]}],
      "mark": {"type": "line", "strokeWidth": 1.5, "clip": true},
      "encoding": {
        "x": {"field": "t", "type": "quantitative", "scale": {"domain": [-30, 30], "nice": false, "zero": false},
          "axis": {"values": [-30,-28,-26,-24,-22,-20,-18,-16,-14,-12,-10,-8,-6,-4,-2,0,2,4,6,8,10,12,14,16,18,20,22,24,26,28,30], "labelExpr": "datum.value % 10 != 0 || datum.value > 25 ? '' : datum.value == 0 ? '0' : (datum.value / 10) + 'x10⁻⁸'", "labelOverlap": false, "labelFlush": false, "labelPadding": 5, "title": "時間[s]", "titleFontSize": 18, "titleY": 33, "titleBaseline": "middle"}},
        "y": {"field": "v", "type": "quantitative", "scale": {"domain": [-0.5, 3.5], "nice": false, "zero": false},
          "axis": {"values": [-0.5,0,0.5,1,1.5,2,2.5,3,3.5], "labelExpr": "replace(format(datum.value, '~g'), '−', '-')", "labelOverlap": false, "labelPadding": 5, "title": "電圧[V]", "titleFontSize": 20, "titleX": -47, "titleY": 137.5, "titleAngle": -90, "titleBaseline": "middle", "titleAlign": "center"}},
        "color": {"field": "series", "type": "nominal", "scale": {"domain": ["master", "center"], "range": ["#e51e10", "#000000"]},
          "legend": {"title": null, "labelExpr": "datum.label == 'master' ? 'マスター' : '中央'", "orient": "none", "legendX": 376, "legendY": 240.5, "padding": 0, "labelFont": "Noto Sans CJK JP", "labelFontSize": 14, "labelFontWeight": "bold", "labelColor": "#111", "labelAlign": "right", "labelOffset": -35, "symbolOffset": 60, "symbolType": "M-2.33,0H2.33", "symbolSize": 225, "symbolStrokeWidth": 1.5, "rowPadding": 2}}
      }
    },
    {
      "width": 472, "height": 275,
      "data": {"name": "br"},
      "transform": [{"fold": ["xend", "center"], "as": ["series", "v"]}],
      "mark": {"type": "line", "strokeWidth": 1.5, "clip": true},
      "encoding": {
        "x": {"field": "t", "type": "quantitative", "scale": {"domain": [-30, 30], "nice": false, "zero": false},
          "axis": {"values": [-30,-28,-26,-24,-22,-20,-18,-16,-14,-12,-10,-8,-6,-4,-2,0,2,4,6,8,10,12,14,16,18,20,22,24,26,28,30], "labelExpr": "datum.value % 10 != 0 || datum.value > 25 ? '' : datum.value == 0 ? '0' : (datum.value / 10) + 'x10⁻⁸'", "labelOverlap": false, "labelFlush": false, "labelPadding": 5, "title": "時間[s]", "titleFontSize": 18, "titleY": 33, "titleBaseline": "middle"}},
        "y": {"field": "v", "type": "quantitative", "scale": {"domain": [-0.5, 3.5], "nice": false, "zero": false},
          "axis": {"values": [-0.5,0,0.5,1,1.5,2,2.5,3,3.5], "labelExpr": "replace(format(datum.value, '~g'), '−', '-')", "labelOverlap": false, "labelPadding": 5, "title": "電圧[V]", "titleFontSize": 20, "titleX": -45, "titleY": 137.5, "titleAngle": -90, "titleBaseline": "middle", "titleAlign": "center"}},
        "color": {"field": "series", "type": "nominal", "scale": {"domain": ["xend", "center"], "range": ["#f29e0c", "#000000"]},
          "legend": {"title": null, "labelExpr": "datum.label == 'xend' ? 'X 端' : '中央'", "orient": "none", "legendX": 382, "legendY": 240.5, "padding": 0, "labelFont": "Noto Sans CJK JP", "labelFontSize": 14, "labelFontWeight": "bold", "labelColor": "#111", "labelAlign": "right", "labelOffset": -36, "symbolOffset": 45, "symbolType": "M-2.33,0H2.33", "symbolSize": 225, "symbolStrokeWidth": 1.5, "rowPadding": 2}}
      }
    }
  ]
}
